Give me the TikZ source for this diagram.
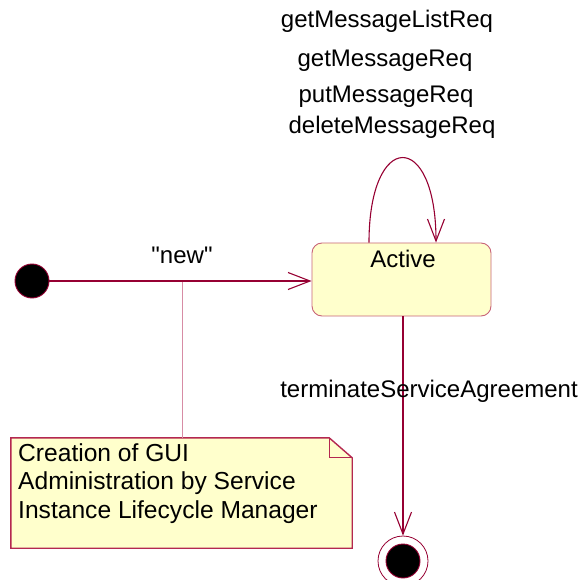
\documentclass[tikz,border=0pt]{standalone}
\usepackage{fontspec}
\setmainfont{Liberation Sans}
\newfontfamily\plainsans{Liberation Sans}
\usetikzlibrary{arrows.meta}
\definecolor{umlline}{RGB}{150,0,50}
\definecolor{umlfill}{RGB}{255,255,204}
\definecolor{stateborder}{RGB}{200,100,120}
\definecolor{noteborder}{RGB}{180,40,80}
\definecolor{anchorline}{RGB}{215,140,165}
\begin{document}
\begin{tikzpicture}[x=1pt,y=-1pt,
  lbl/.style={font=\plainsans\fontsize{24}{28.5}\selectfont, inner sep=0pt, anchor=base},
  trans/.style={draw=umlline, line width=1.1pt, -{Straight Barb[length=22pt,width=17pt,line width=1.1pt]}},
  statebox/.style={rectangle, rounded corners=10pt, draw=stateborder, line width=0.9pt, fill=umlfill, minimum width=179pt, minimum height=73pt, inner sep=0pt},
  pseudo/.style={circle, fill=black, draw=umlline, line width=0.9pt, minimum size=34pt, inner sep=0pt},
  notebox/.style={rectangle, inner sep=0pt, minimum width=341pt, minimum height=110pt}
]
\useasboundingbox (0,0) rectangle (581,580);
\clip (0,0) rectangle (581,580);

% states
\node[pseudo] (init) at (32,281) {};
\node[statebox] (active) at (401.5,279.5) {};
\node[lbl] (activelbl) at (403,268) {Active};
\node[circle, draw=umlline, line width=0.8pt, minimum size=50pt, inner sep=0pt] (final) at (403,561) {};
\node[pseudo] (finalin) at (final.center) {};

% transitions
\draw[trans] (init.east) -- (init.east -| active.west);
\node[lbl] (newlbl) at (182,263) {"new"};

\draw[trans] ([xshift=-32.5pt]active.north) .. controls +(0,-113) and +(0,-113) .. ([xshift=34.5pt]active.north);
\node[lbl] (l1) at (387,28) {getMessageListReq};
\node[lbl] (l2) at (385,67) {getMessageReq};
\node[lbl] (l3) at (386,103) {putMessageReq};
\node[lbl] (l4) at (392,134) {deleteMessageReq};

\draw[trans] (active.south -| final.north) -- (final.north);
\node[lbl] (termlbl) at (429,397) {terminateServiceAgreement};

% note
\node[notebox] (note) at (181.5,493) {};
\draw[noteborder, line width=1.4pt, fill=umlfill]
  (note.north west) -- ([xshift=-23pt]note.north east) -- ([yshift=-20pt]note.north east)
  -- (note.south east) -- (note.south west) -- cycle;
\draw[noteborder, line width=1.2pt] ([xshift=-23pt]note.north east) |- ([yshift=-20pt]note.north east);
\node[lbl, font=\plainsans\fontsize{24.6}{28.5}\selectfont, anchor=north west, align=left] (notetext) at (18,443)
  {Creation of GUI\\Administration by Service\\Instance Lifecycle Manager};

\coordinate (newmid) at (182,282);
\draw[anchorline, line width=0.8pt] (newmid) -- (newmid |- note.north);
\end{tikzpicture}
\end{document}
